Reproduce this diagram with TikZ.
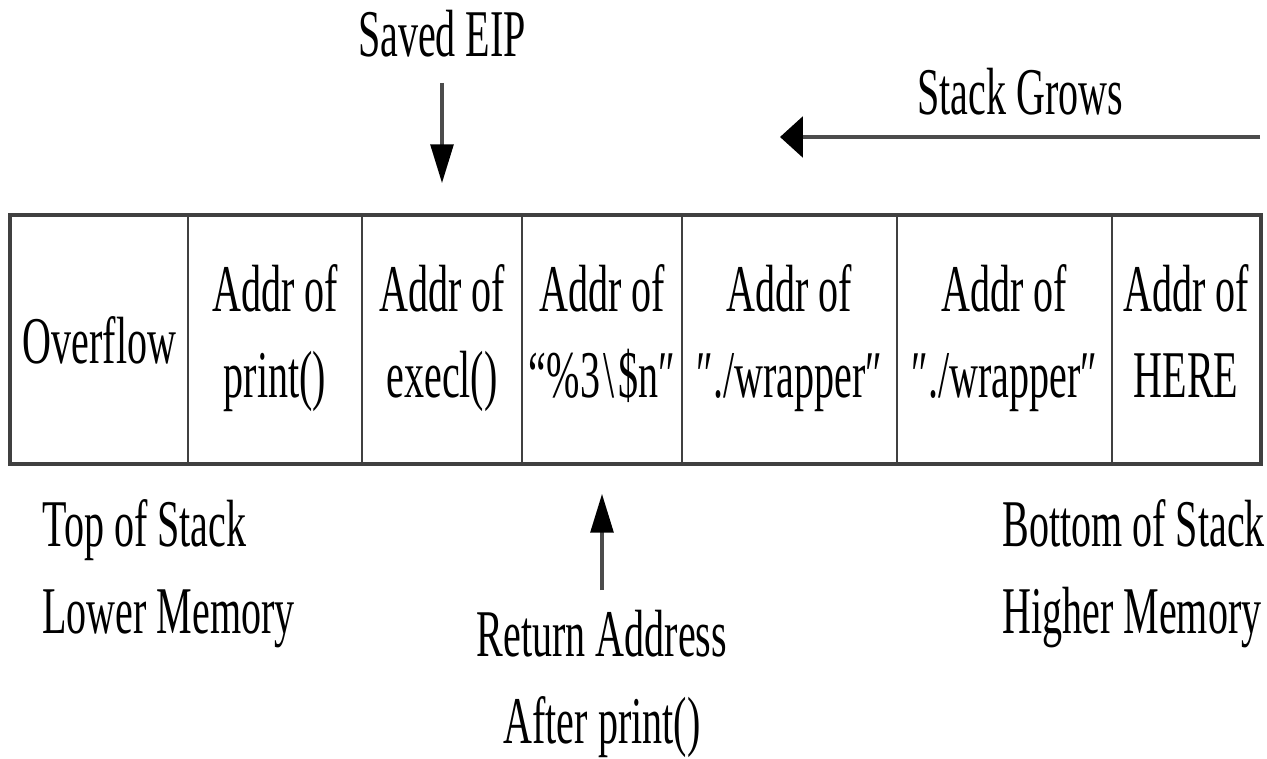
\documentclass[tikz,border=0pt]{standalone}
\usepackage{fontspec}
\setmainfont{Liberation Serif}[FakeStretch=0.6]
\usetikzlibrary{arrows.meta}

\begin{document}
\begin{tikzpicture}[x=0.02cm, y=-0.02cm,
  cellbox/.style={font=\fontsize{38}{49}\selectfont, draw=black!75, line width=1.1pt, minimum height=4.94cm, inner sep=0, text depth=10pt, align=center},
  textlabel/.style={font=\fontsize{38}{49}\selectfont, inner sep=0, align=left},
  uparrow/.style={draw=black!70, line width=1.8pt, -{Triangle[length=22pt, width=13pt, color=black]}},
  growarrow/.style={draw=black!70, line width=2.4pt, -{Triangle[length=13pt, width=23pt, color=black]}}]
\useasboundingbox (0,0) rectangle (1267,759);
%stack cells
\node[cellbox, minimum width=3.54cm, text depth=0pt] (s1) at (99.5,339.5) {Overflow};
\node[cellbox, minimum width=3.48cm] (s2) at (275,339.5) {Addr of\\print()};
\node[cellbox, minimum width=3.2cm] (s3) at (442,339.5) {Addr of\\execl()};
\node[cellbox, minimum width=3.2cm] (s4) at (602,339.5) {Addr of\\“\%3\kern2pt\textbackslash\kern2pt\$n″};
\node[cellbox, minimum width=4.3cm] (s5) at (789.5,339.5) {Addr of\\″./wrapper″};
\node[cellbox, minimum width=4.3cm] (s6) at (1004.5,339.5) {Addr of\\″./wrapper″};
\node[cellbox, minimum width=2.96cm] (s7) at (1186,339.5) {Addr of\\HERE};
\draw[line width=2.2pt, black!75] (s1.north west) rectangle (s7.south east);
%labels
\node[textlabel, anchor=base] (eip) at (442,57) {Saved EIP};
\node[textlabel, anchor=base] (grows) at (1020,115) {Stack Grows};
\node[textlabel, anchor=base west] (top) at (42,633) {Top of Stack\\Lower Memory};
\node[textlabel, anchor=base west] (bottom) at (1002,633) {Bottom of Stack\\Higher Memory};
\node[textlabel, anchor=base, align=center] (ret) at (602,743) {Return Address\\After print()};
\coordinate (growstart) at (1260,137);
\coordinate (growend) at (780,137);
\draw[uparrow, shorten <=0.5cm, shorten >=0.64cm] (eip.south) -- (s3.north);
\draw[uparrow, shorten <=0.4cm, shorten >=0.6cm] (ret.north) -- (s4.south);
\draw[growarrow] (growstart) -- (growend);
\end{tikzpicture}
\end{document}
